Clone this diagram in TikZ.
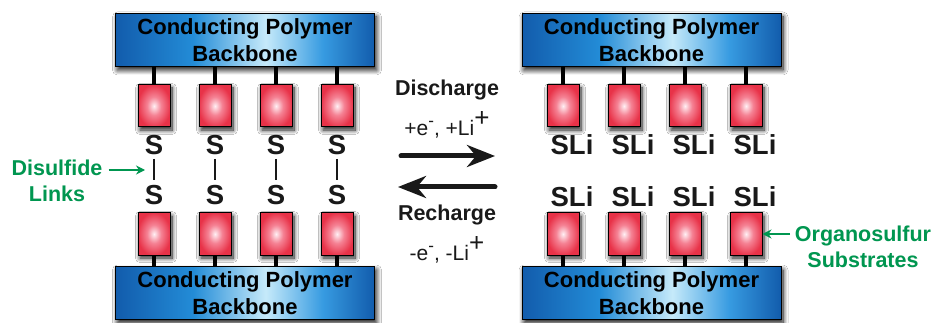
\documentclass[tikz,border=0pt]{standalone}
\usepackage{fontspec}
\setmainfont{Liberation Sans}
\usetikzlibrary{shadows.blur,arrows.meta}
\definecolor{grn}{RGB}{0,150,80}
\definecolor{inkc}{RGB}{25,25,25}
\definecolor{padred}{RGB}{232,50,72}
\definecolor{padmid}{RGB}{245,130,148}
\definecolor{padin}{RGB}{255,240,244}
\definecolor{bd}{RGB}{18,92,172}
\definecolor{bm}{RGB}{35,140,215}
\definecolor{bn}{RGB}{55,155,225}
\definecolor{bl}{RGB}{198,234,250}
\pgfdeclareradialshading{padshade}{\pgfpoint{0bp}{0bp}}{
 color(0bp)=(padin); color(11bp)=(padmid); color(26bp)=(padred); color(50bp)=(padred)}
\pgfdeclarehorizontalshading{backshade}{100bp}{
 color(0bp)=(bd); color(25bp)=(bd); color(40bp)=(bm); color(54bp)=(bl); color(65bp)=(bn); color(75bp)=(bd); color(100bp)=(bd)}
\newcommand{\upm}[1]{\raisebox{0.42em}{\fontsize{17}{17}\selectfont #1}}
\newcommand{\upp}[1]{\raisebox{0.42em}{\fontsize{26}{26}\selectfont #1}}
\newcommand{\bbtext}{\raisebox{-1.5pt}{Conducting Polymer}\\\raisebox{-1.5pt}{Backbone}}
\tikzset{
 backbone/.style={draw=black,line width=1pt,minimum width=259pt,minimum height=53pt,inner sep=0pt,align=center,
   blur shadow={shadow xshift=2pt,shadow yshift=-3.5pt,shadow blur radius=5pt,shadow blur steps=10,shadow opacity=95},
   shading=backshade,font=\bfseries\fontsize{22}{26.5}\selectfont,text=black},
 pad/.style={draw=black,line width=1pt,minimum width=32pt,minimum height=42pt,inner sep=0pt,
   blur shadow={shadow xshift=2pt,shadow yshift=-3pt,shadow blur radius=4.5pt,shadow blur steps=10,shadow opacity=90},
   shading=padshade},
 stem/.style={draw=black,line width=3.4pt},
 sulf/.style={font=\bfseries\fontsize{27.5}{27.5}\selectfont,text=inkc,inner sep=0pt},
 link/.style={draw=inkc,line width=1.4pt},
 proc/.style={font=\bfseries\fontsize{21.5}{21.5}\selectfont,text=inkc,inner sep=0pt},
 cond/.style={font=\fontsize{21}{21}\selectfont,text=inkc,inner sep=0pt},
 note/.style={font=\bfseries\fontsize{21.5}{26.5}\selectfont,text=grn,align=center,inner sep=0pt},
 notearrow/.style={draw=grn,line width=1.2pt,-{Stealth[length=9pt,width=9pt,inset=3pt]}},
 bigarrow/.style={draw=black!90,line width=5pt,line cap=round,-{Stealth[length=28pt,width=22pt,inset=9pt]}},
}
\begin{document}
\begin{tikzpicture}[x=1pt,y=-1pt]
\useasboundingbox (0,0) rectangle (934,323);
\fill[white] (0,0) rectangle (934,323);
\node[backbone] (tl) at (245,40) {\bbtext};
\node[backbone] (tr) at (651.5,40) {\bbtext};
\node[backbone] (bl) at (245,293) {\bbtext};
\node[backbone] (br) at (651.5,293) {\bbtext};
\foreach \n/\x/\t/\b in {a/154/tl/bl,b/215/tl/bl,c/276/tl/bl,d/337/tl/bl,e/563/tr/br,f/624/tr/br,g/685/tr/br,h/746/tr/br}{
  \node[pad] (tp\n) at (\x,106) {};
  \node[pad] (bp\n) at (\x,234) {};
  \draw[stem] (tp\n.north) -- (tp\n.north |- \t.south);
  \draw[stem] (bp\n.south) -- (bp\n.south |- \b.north);
}
\foreach \n/\x in {a/154,b/215,c/276,d/337}{
  \node[sulf] (su\n) at (\x,145) {S};
  \node[sulf] (sl\n) at (\x,195) {S};
  \draw[link] (su\n.south) ++(0,4) -- (\x,180);
}
\foreach \n/\x in {e/572,f/633,g/694,h/755}{
  \node[sulf] (su\n) at (\x,145) {SLi};
  \node[sulf] (sl\n) at (\x,197) {SLi};
}
\node[proc] (dis) at (447,90) {Discharge};
\node[cond] (pl) at (447,125) {+e\upm{-}, +Li\upp{+}};
\coordinate (a1) at (401,156); \coordinate (a2) at (495,156);
\coordinate (b1) at (495,187); \coordinate (b2) at (398,187);
\draw[bigarrow] (a1) -- (a2);
\draw[bigarrow] (b1) -- (b2);
\node[proc] (rec) at (447,215) {Recharge};
\node[cond] (mi) at (447,250) {-e\upm{-}, -Li\upp{+}};
\node[note] (dl) at (57,181) {Disulfide\\Links};
\coordinate (dla) at (145,170);
\draw[notearrow] (dl.east |- dla) ++(6,0) -- (dla);
\node[note] (os) at (863,247) {Organosulfur\\Substrates};
\coordinate (osa) at (790,234);
\draw[notearrow] (osa) -- (bph.east);
\end{tikzpicture}
\end{document}
